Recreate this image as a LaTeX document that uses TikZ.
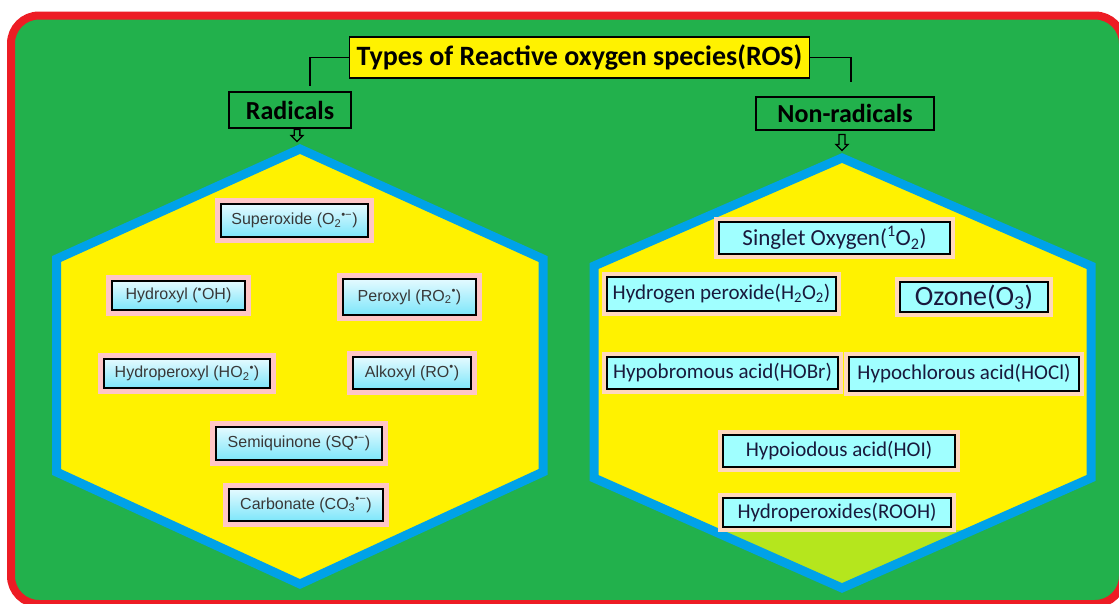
\documentclass[tikz,border=0pt]{standalone}
\usepackage{fontspec}
\setmainfont{Carlito}
\newfontfamily\arialf{Liberation Sans}
\usetikzlibrary{shapes.arrows,shadows,calc}
\definecolor{bggreen}{RGB}{34,177,76}
\definecolor{framered}{RGB}{237,28,36}
\definecolor{hexblue}{RGB}{0,162,232}
\definecolor{hexyellow}{RGB}{255,242,0}
\definecolor{limefill}{RGB}{181,230,29}
\definecolor{pinkpad}{RGB}{255,198,198}
\definecolor{peachpad}{RGB}{255,216,188}
\definecolor{cyanlight}{RGB}{160,255,255}
\definecolor{cyantop}{RGB}{228,250,255}
\definecolor{cyanbot}{RGB}{125,230,250}
\definecolor{navytext}{RGB}{25,25,60}
\tikzset{
  conn/.style={draw=black, line width=1.6pt},
  hexline/.style={draw=hexblue, line width=9pt, line join=miter},
  headbox/.style={draw=black, line width=1.5pt, inner sep=0pt, font=\bfseries\fontsize{26}{28}\selectfont, text=black},
  radbox/.style={preaction={draw=pinkpad, line width=12pt},
    drop shadow={shadow xshift=1.2pt, shadow yshift=-1.2pt, fill=black!60, opacity=0.8},
    draw=black, line width=1.5pt, top color=cyantop, bottom color=cyanbot,
    inner sep=0pt, font=\arialf\fontsize{16}{18}\selectfont, text=black!78},
  nonbox/.style={preaction={draw=peachpad, line width=10pt},
    draw=black, line width=1.5pt, fill=cyanlight,
    inner sep=0pt, font=\fontsize{21}{24}\selectfont, text=navytext},
  downarrow/.style={single arrow, draw=black, fill=bggreen, line width=1.3pt,
    shape border rotate=270, inner xsep=2.2pt, inner ysep=0pt,
    single arrow head extend=3pt, single arrow head indent=0pt}
}
\begin{document}
\begin{tikzpicture}[x=1pt,y=-1pt]
\clip (0,0) rectangle (1119,603);
\fill[white] (0,0) rectangle (1119,603);
% frame
\draw[framered, line width=8pt, fill=bggreen, rounded corners=28pt] (11,15.5) rectangle (1123,604);
% left hexagon
\fill[hexyellow] (300,149) -- (543,259) -- (543,472) -- (300,584) -- (56.5,472) -- (56.5,259) -- cycle;
\draw[hexline] (300,149) -- (543,259) -- (543,472) -- (300,584) -- (56.5,472) -- (56.5,259) -- cycle;
% right hexagon
\begin{scope}
\fill[hexyellow] (842,158) -- (1091,266) -- (1091,478) -- (842,588) -- (594,478) -- (594,266) -- cycle;
\clip (842,158) -- (1091,266) -- (1091,478) -- (842,588) -- (594,478) -- (594,266) -- cycle;
\fill[limefill] (580,530) rectangle (1100,600);
\end{scope}
\draw[hexline] (842,158) -- (1091,266) -- (1091,478) -- (842,588) -- (594,478) -- (594,266) -- cycle;
% headings
\node[headbox, fill=hexyellow, font=\bfseries\fontsize{28}{30}\selectfont, minimum width=460pt, minimum height=41pt] (title) at (579.5,57.5) {Types of Reactive oxygen species(ROS)};
\node[headbox, fill=bggreen, minimum width=122pt, minimum height=36pt] (rad) at (290,110) {Radicals};
\node[headbox, fill=bggreen, minimum width=178pt, minimum height=33pt] (nonrad) at (845,113.5) {Non-radicals};
\draw[conn] (title.west) -| ($(rad.north)+(20,-5)$);
\draw[conn] (title.east) -| ($(nonrad.north)+(6,-14)$);
\node[downarrow, minimum height=12pt, minimum width=10pt] (arL) at (297,134) {};
\node[downarrow, minimum height=16pt, minimum width=12pt] (arR) at (842,141) {};
% radicals
\node[radbox, minimum width=147pt, minimum height=33pt] (sup) at (294.5,220.5) {Superoxide (O\textsubscript{2}\textsuperscript{•−})};
\node[radbox, minimum width=133pt, minimum height=29pt] (hyd) at (178.5,295.5) {Hydroxyl (\textsuperscript{•}OH)};
\node[radbox, minimum width=133pt, minimum height=36pt] (per) at (409.5,297) {Peroxyl (RO\textsubscript{2}\textsuperscript{•})};
\node[radbox, minimum width=166pt, minimum height=29pt] (hpx) at (187,373.5) {Hydroperoxyl (HO\textsubscript{2}\textsuperscript{•})};
\node[radbox, minimum width=118pt, minimum height=32pt] (alk) at (412,373) {Alkoxyl (RO\textsuperscript{•})};
\node[radbox, minimum width=166pt, minimum height=33pt] (semi) at (299,443.5) {Semiquinone (SQ\textsuperscript{•−})};
\node[radbox, minimum width=154pt, minimum height=32pt] (carb) at (306,505) {Carbonate (CO\textsubscript{3}\textsuperscript{•−})};
% non-radicals
\node[nonbox, minimum width=231pt, minimum height=32pt, font=\fontsize{23}{26}\selectfont] (sing) at (834.5,238) {Singlet Oxygen(\textsuperscript{1}O\textsubscript{2})};
\node[nonbox, minimum width=229pt, minimum height=34pt] (hoh) at (721.5,294) {Hydrogen peroxide(H\textsubscript{2}O\textsubscript{2})};
\node[nonbox, minimum width=148pt, minimum height=30pt, font=\fontsize{28}{30}\selectfont] (ozo) at (974,297) {Ozone(O\textsubscript{3})};
\node[nonbox, minimum width=231pt, minimum height=32pt] (hobr) at (722.5,373) {Hypobromous acid(HOBr)};
\node[nonbox, minimum width=230pt, minimum height=34pt] (hocl) at (964,374) {Hypochlorous acid(HOCl)};
\node[nonbox, minimum width=232pt, minimum height=32pt] (hoi) at (839,451) {Hypoiodous acid(HOI)};
\node[nonbox, minimum width=228pt, minimum height=29pt] (rooh) at (837,512.5) {Hydroperoxides(ROOH)};
\end{tikzpicture}
\end{document}
